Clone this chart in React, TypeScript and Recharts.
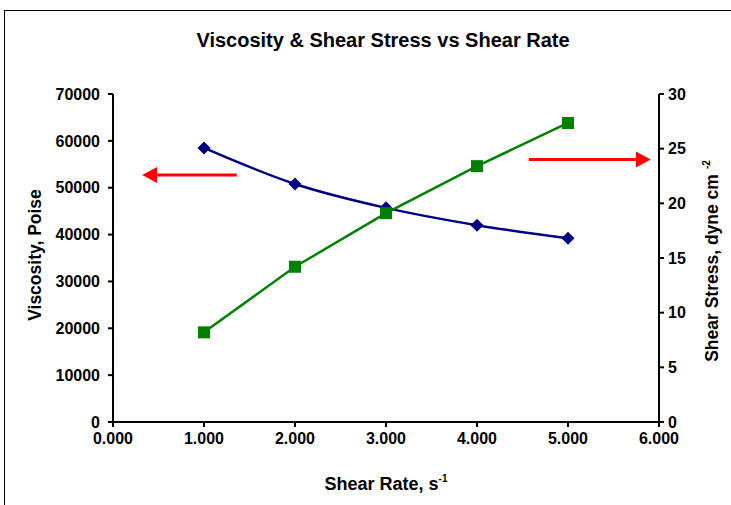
import {
  LineChart,
  Line,
  XAxis,
  YAxis,
  ReferenceLine,
  Label,
} from "recharts";

const shearRate = [1, 2, 3, 4, 5];
const viscosity = [58500, 50800, 45700, 42000, 39200];
const shearStress = [8.2, 14.2, 19.1, 23.4, 27.35];

const xTicks = [0, 1, 2, 3, 4, 5, 6];
const viscosityTicks = [0, 10000, 20000, 30000, 40000, 50000, 60000, 70000];
const stressTicks = [0, 5, 10, 15, 20, 25, 30];

// arrows pointing to the axis each series belongs to
const leftArrow = { from: 1.36, to: 0.32, y: 52700 };
const rightArrow = { from: 4.57, to: 5.91, y: 24 };

const data = shearRate.map((x, i) => ({
  rate: x,
  viscosity: viscosity[i],
  stress: shearStress[i],
}));

const FONT = "'Liberation Sans', Arial, sans-serif";
const tickStyle = { fill: "#000", fontSize: 16, fontWeight: "bold", fontFamily: FONT };

function Diamond(props: any) {
  const { cx, cy } = props;
  if (cx == null || cy == null) return null;
  const r = 6.5;
  return (
    <polygon
      points={`${cx},${cy - r} ${cx + r},${cy} ${cx},${cy + r} ${cx - r},${cy}`}
      fill="#000080"
    />
  );
}

function Square(props: any) {
  const { cx, cy } = props;
  if (cx == null || cy == null) return null;
  return <rect x={cx - 6} y={cy - 6} width={12} height={12} fill="#008000" />;
}

function Arrow(props: any) {
  const { x1, y1, x2, y2 } = props;
  const dir = x2 > x1 ? 1 : -1;
  const head = 15;
  return (
    <g>
      <line x1={x1} y1={y1} x2={x2 - dir * head} y2={y2} stroke="#ff0000" strokeWidth={3} />
      <polygon
        points={`${x2},${y2} ${x2 - dir * head},${y2 - 8} ${x2 - dir * head},${y2 + 8}`}
        fill="#ff0000"
      />
    </g>
  );
}

export default function App() {
  return (
    <div
      style={{
        position: "absolute",
        left: 0,
        top: 0,
        width: 731,
        height: 505,
        overflow: "hidden",
        background: "#fff",
        fontFamily: FONT,
      }}
    >
      <div
        style={{
          position: "absolute",
          left: 4,
          top: 10,
          width: 760,
          height: 520,
          border: "1px solid #000",
        }}
      />
      <div
        style={{
          position: "absolute",
          left: 0,
          width: 766,
          top: 29,
          textAlign: "center",
          fontSize: 20,
          fontWeight: "bold",
        }}
      >
        Viscosity &amp; Shear Stress vs Shear Rate
      </div>
      <LineChart
        width={731}
        height={505}
        data={data}
        margin={{ top: 94, right: 0, left: 0, bottom: 23 }}
        style={{ position: "absolute", left: 0, top: 0 }}
      >
        <XAxis
          dataKey="rate"
          type="number"
          domain={[0, 6]}
          ticks={xTicks}
          tickFormatter={(v: number) => v.toFixed(3)}
          tick={tickStyle}
          height={60}
          stroke="#000"
          strokeWidth={2}
          tickSize={5}
          tickMargin={6}
          xAxisId="x"
        >
          <Label
            content={() => (
              <text x={386} y={490} textAnchor="middle" fontSize={18} fontWeight="bold" fontFamily={FONT} fill="#000">
                Shear Rate, s
                <tspan dy={-8} fontSize={10}>-1</tspan>
              </text>
            )}
          />
        </XAxis>
        <YAxis
          yAxisId="left"
          orientation="left"
          domain={[0, 70000]}
          ticks={viscosityTicks}
          width={113}
          tick={tickStyle}
          stroke="#000"
          strokeWidth={2}
          tickSize={5}
          tickMargin={8}
        >
          <Label
            content={() => (
              <text
                x={41}
                y={255}
                transform="rotate(-90 41 255)"
                textAnchor="middle"
                fontSize={17.5}
                fontWeight="bold"
                fontFamily={FONT}
                fill="#000"
              >
                Viscosity, Poise
              </text>
            )}
          />
        </YAxis>
        <YAxis
          yAxisId="right"
          orientation="right"
          domain={[0, 30]}
          ticks={stressTicks}
          width={72}
          tick={tickStyle}
          stroke="#000"
          strokeWidth={2}
          tickSize={5}
          tickMargin={4}
        >
          <Label
            content={() => (
              <text
                x={718}
                y={261}
                transform="rotate(-90 718 261)"
                textAnchor="middle"
                fontSize={17.5}
                fontWeight="bold"
                fontFamily={FONT}
                fill="#000"
              >
                Shear Stress, dyne cm
                <tspan dx={5} dy={-8} fontSize={10}>-2</tspan>
              </text>
            )}
          />
        </YAxis>
        <ReferenceLine
          xAxisId="x"
          yAxisId="left"
          segment={[
            { x: leftArrow.from, y: leftArrow.y },
            { x: leftArrow.to, y: leftArrow.y },
          ]}
          shape={Arrow}
        />
        <ReferenceLine
          xAxisId="x"
          yAxisId="right"
          segment={[
            { x: rightArrow.from, y: rightArrow.y },
            { x: rightArrow.to, y: rightArrow.y },
          ]}
          shape={Arrow}
        />
        <Line
          xAxisId="x"
          yAxisId="left"
          type="monotone"
          dataKey="viscosity"
          stroke="#000080"
          strokeWidth={2.5}
          dot={<Diamond />}
          activeDot={false}
          isAnimationActive={false}
        />
        <Line
          xAxisId="x"
          yAxisId="right"
          type="linear"
          dataKey="stress"
          stroke="#008000"
          strokeWidth={2.5}
          dot={<Square />}
          activeDot={false}
          isAnimationActive={false}
        />
      </LineChart>
    </div>
  );
}
